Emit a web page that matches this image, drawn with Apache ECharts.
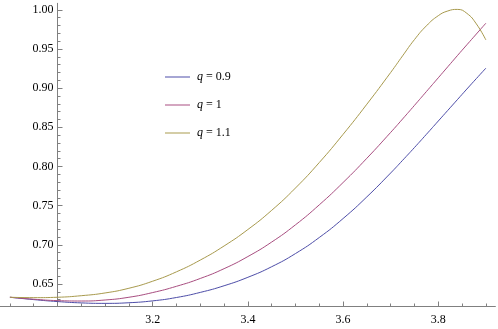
<!DOCTYPE html>
<html><head><meta charset="utf-8">
<script src="https://cdn.jsdelivr.net/npm/echarts@6/dist/echarts.min.js"></script>
<style>html,body{margin:0;padding:0;background:#fff}#c{width:498px;height:329px}</style>
</head><body><div id="c"></div>
<script>
// ---- data ----
const xs  = [2.90,2.95,3.00,3.05,3.10,3.15,3.20,3.25,3.30,3.35,3.40,3.45,3.50,3.55,3.60,3.65,3.70,3.725,3.75,3.775,3.80,3.82,3.84,3.86,3.88,3.90];
const q09 = [0.6330,0.6300,0.6275,0.6258,0.6252,0.6260,0.6284,0.6327,0.6392,0.6477,0.6585,0.6720,0.6888,0.7093,0.7335,0.7612,0.7917,0.8078,0.8242,0.8410,0.8580,0.8716,0.8852,0.8988,0.9122,0.9255];
const q10 = [0.6330,0.6305,0.6287,0.6282,0.6295,0.6330,0.6390,0.6470,0.6570,0.6695,0.6850,0.7035,0.7255,0.7510,0.7795,0.8105,0.8435,0.8606,0.8780,0.8956,0.9132,0.9273,0.9414,0.9553,0.9691,0.9829];
const q11 = [0.6330,0.6325,0.6330,0.6350,0.6385,0.6445,0.6535,0.6655,0.6805,0.6985,0.7195,0.7440,0.7725,0.8050,0.8410,0.8795,0.9200,0.9412,0.9620,0.9795,0.9925,0.9985,1.0005,0.9955,0.9820,0.9615];
const seriesNames = ['q = 0.9','q = 1','q = 1.1'];
const xTickLabels = [3.2,3.4,3.6,3.8];

// ---- chart ----
const pair = ys => xs.map((x,i)=>[x,ys[i]]);
const AX = '#808080';
const FONT = '"Liberation Serif", "DejaVu Serif", serif';
const YMIN = 0.6212, YMAX = 1.0083;
const hidden = {show:false};
const chart = echarts.init(document.getElementById('c'), null, {renderer:'canvas'});
const g = (l,r,t,b) => ({left:l,right:r,top:t,bottom:b,containLabel:false,outerBoundsMode:'none'});
chart.setOption({
  animation:false,
  backgroundColor:'#fff',
  grid:[
    g(0.4,2.6,3.3,22.5),   // 0 plot + x axis line
    g(57.5,2.6,9.8,45),    // 1 y major ticks + labels
    g(57.5,2.6,9.8,29.4),  // 2 y minor ticks
    g(57.5,59.7,3.3,22.5), // 3 x major ticks + labels, y axis line
    g(9.9,12.1,3.3,22.5)   // 4 x minor ticks
  ],
  xAxis:[
    {gridIndex:0,type:'value',min:2.88,max:3.92,axisLine:{show:true,onZero:false,lineStyle:{color:AX,width:1}},axisTick:hidden,axisLabel:hidden,splitLine:hidden},
    {gridIndex:1,type:'value',min:3.0,max:3.92,show:false},
    {gridIndex:2,type:'value',min:3.0,max:3.92,show:false},
    {gridIndex:3,type:'value',min:3.0,max:3.8,interval:0.2,
      axisLine:{show:false,onZero:false},
      axisTick:{show:true,inside:true,length:5,lineStyle:{color:AX,width:1}},
      axisLabel:{show:true,margin:7,color:'#000',fontFamily:FONT,fontSize:12,
        formatter:v=>{const r=Math.round(v*10)/10; return xTickLabels.some(t=>Math.abs(t-r)<1e-6)? r.toFixed(1):'';}},
      splitLine:hidden},
    {gridIndex:4,type:'value',min:2.9,max:3.9,interval:0.05,
      axisLine:{show:false,onZero:false},
      axisTick:{show:true,inside:true,length:3,lineStyle:{color:AX,width:1}},
      axisLabel:hidden,splitLine:hidden}
  ],
  yAxis:[
    {gridIndex:0,type:'value',min:YMIN,max:YMAX,show:false},
    {gridIndex:1,type:'value',min:0.65,max:1.0,interval:0.05,
      axisLine:{show:false,onZero:false},
      axisTick:{show:true,inside:true,length:5,lineStyle:{color:AX,width:1}},
      axisLabel:{show:true,margin:4,color:'#000',fontFamily:FONT,fontSize:12,formatter:v=>v.toFixed(2)},
      splitLine:hidden},
    {gridIndex:2,type:'value',min:0.63,max:1.0,interval:0.01,
      axisLine:{show:false,onZero:false},
      axisTick:{show:true,inside:true,length:3,lineStyle:{color:AX,width:1}},
      axisLabel:hidden,splitLine:hidden},
    {gridIndex:3,type:'value',min:YMIN,max:YMAX,
      axisLine:{show:true,onZero:false,lineStyle:{color:AX,width:1}},
      axisTick:hidden,axisLabel:hidden,splitLine:hidden},
    {gridIndex:4,type:'value',min:YMIN,max:YMAX,show:false}
  ],
  legend:{
    orient:'vertical',left:160,top:65,itemWidth:25,itemHeight:1,itemGap:14,icon:'rect',
    data:seriesNames,
    formatter:n=>n.replace('q','{i|q}'),
    textStyle:{color:'#000',fontFamily:FONT,fontSize:12,lineHeight:14,padding:[0,0,0,2],
      rich:{i:{fontStyle:'italic',fontFamily:FONT,fontSize:12,color:'#000'}}}
  },
  series:[
    {name:seriesNames[0],type:'line',xAxisIndex:0,yAxisIndex:0,data:pair(q09),smooth:0.5,symbol:'none',lineStyle:{width:1,color:'#4d4da8'},itemStyle:{color:'#4d4da8'}},
    {name:seriesNames[1],type:'line',xAxisIndex:0,yAxisIndex:0,data:pair(q10),smooth:0.5,symbol:'none',lineStyle:{width:1,color:'#a84d80'},itemStyle:{color:'#a84d80'}},
    {name:seriesNames[2],type:'line',xAxisIndex:0,yAxisIndex:0,data:pair(q11),smooth:0.5,symbol:'none',lineStyle:{width:1,color:'#a89a4d'},itemStyle:{color:'#a89a4d'}}
  ]
});
</script></body></html>
